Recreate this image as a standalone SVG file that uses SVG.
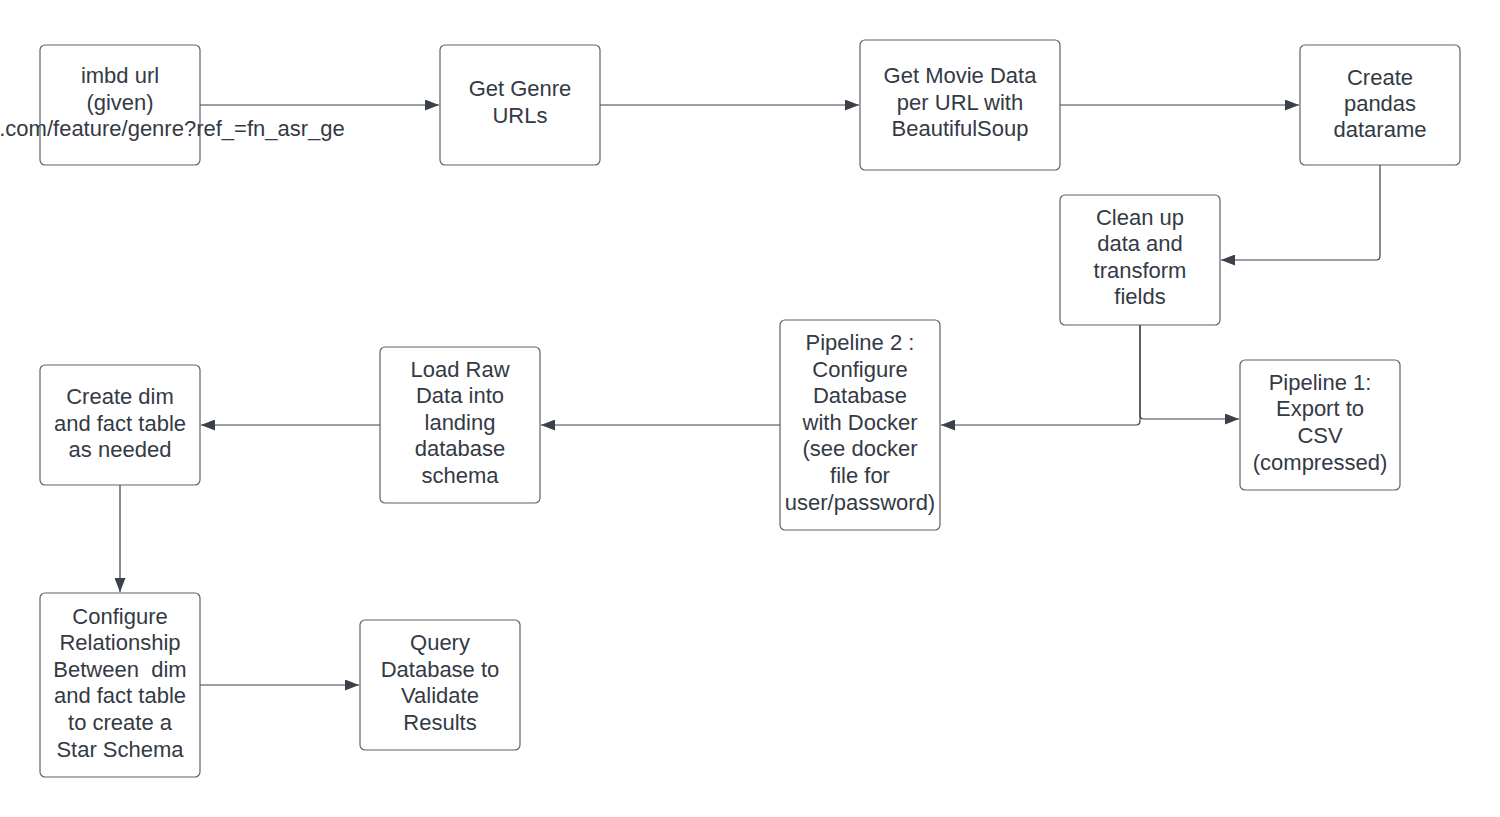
<svg xmlns="http://www.w3.org/2000/svg" width="1500" height="817" viewBox="0 0 1500 817">
<defs>
<style>
.box{fill:#ffffff;stroke:#5e6168;stroke-width:1.2}
.t{font-family:"Liberation Sans",Arial,sans-serif;font-size:22px;fill:#333a45;text-anchor:middle}
.c{fill:none;stroke:#3a414a;stroke-width:1.2}
</style>
<marker id="ah" viewBox="0 0 14 11" refX="14" refY="5.5" markerWidth="14" markerHeight="11" markerUnits="userSpaceOnUse" orient="auto">
<path d="M0,0 L14,5.5 L0,11 Z" fill="#3a414a"/>
</marker>
</defs>
<rect width="1500" height="817" fill="#ffffff"/>
<g id="connectors">
<path class="c" d="M200,105 H439" marker-end="url(#ah)"/>
<path class="c" d="M600,105 H859" marker-end="url(#ah)"/>
<path class="c" d="M1060,105 H1299" marker-end="url(#ah)"/>
<path class="c" d="M1380,165 V256 Q1380,260 1376,260 H1221" marker-end="url(#ah)"/>
<path class="c" d="M1140,325 V421 Q1140,425 1136,425 H941" marker-end="url(#ah)"/>
<path class="c" d="M1140,325 V415 Q1140,419 1144,419 H1239" marker-end="url(#ah)"/>
<path class="c" d="M780,425 H541" marker-end="url(#ah)"/>
<path class="c" d="M380,425 H201" marker-end="url(#ah)"/>
<path class="c" d="M120,485 V592" marker-end="url(#ah)"/>
<path class="c" d="M200,685 H359" marker-end="url(#ah)"/>
</g>
<g id="n1">
<rect class="box" x="40" y="45" width="160" height="120" rx="5"/>
<text class="t"><tspan x="120" y="83">imbd url</tspan><tspan x="120" y="110">(given)</tspan><tspan x="172" y="136">.com/feature/genre?ref_=fn_asr_ge</tspan></text>
</g>
<g id="n2">
<rect class="box" x="440" y="45" width="160" height="120" rx="5"/>
<text class="t"><tspan x="520" y="96">Get Genre</tspan><tspan x="520" y="123">URLs</tspan></text>
</g>
<g id="n3">
<rect class="box" x="860" y="40" width="200" height="130" rx="5"/>
<text class="t"><tspan x="960" y="83">Get Movie Data</tspan><tspan x="960" y="110">per URL with</tspan><tspan x="960" y="136">BeautifulSoup</tspan></text>
</g>
<g id="n4">
<rect class="box" x="1300" y="45" width="160" height="120" rx="5"/>
<text class="t"><tspan x="1380" y="85">Create</tspan><tspan x="1380" y="111">pandas</tspan><tspan x="1380" y="137">datarame</tspan></text>
</g>
<g id="n5">
<rect class="box" x="1060" y="195" width="160" height="130" rx="5"/>
<text class="t"><tspan x="1140" y="225">Clean up</tspan><tspan x="1140" y="251">data and</tspan><tspan x="1140" y="278">transform</tspan><tspan x="1140" y="304">fields</tspan></text>
</g>
<g id="n6">
<rect class="box" x="1240" y="360" width="160" height="130" rx="5"/>
<text class="t"><tspan x="1320" y="390">Pipeline 1:</tspan><tspan x="1320" y="416">Export to</tspan><tspan x="1320" y="443">CSV</tspan><tspan x="1320" y="470">(compressed)</tspan></text>
</g>
<g id="n7">
<rect class="box" x="780" y="320" width="160" height="210" rx="5"/>
<text class="t"><tspan x="860" y="350">Pipeline 2 :</tspan><tspan x="860" y="377">Configure</tspan><tspan x="860" y="403">Database</tspan><tspan x="860" y="430">with Docker</tspan><tspan x="860" y="456">(see docker</tspan><tspan x="860" y="483">file for</tspan><tspan x="860" y="510">user/password)</tspan></text>
</g>
<g id="n8">
<rect class="box" x="380" y="347" width="160" height="156" rx="5"/>
<text class="t"><tspan x="460" y="377">Load Raw</tspan><tspan x="460" y="403">Data into</tspan><tspan x="460" y="430">landing</tspan><tspan x="460" y="456">database</tspan><tspan x="460" y="483">schema</tspan></text>
</g>
<g id="n9">
<rect class="box" x="40" y="365" width="160" height="120" rx="5"/>
<text class="t"><tspan x="120" y="404">Create dim</tspan><tspan x="120" y="431">and fact table</tspan><tspan x="120" y="457">as needed</tspan></text>
</g>
<g id="n10">
<rect class="box" x="40" y="593" width="160" height="184" rx="5"/>
<text class="t"><tspan x="120" y="624">Configure</tspan><tspan x="120" y="650">Relationship</tspan><tspan x="120" y="677" style="white-space:pre">Between  dim</tspan><tspan x="120" y="703">and fact table</tspan><tspan x="120" y="730">to create a</tspan><tspan x="120" y="757">Star Schema</tspan></text>
</g>
<g id="n11">
<rect class="box" x="360" y="620" width="160" height="130" rx="5"/>
<text class="t"><tspan x="440" y="650">Query</tspan><tspan x="440" y="677">Database to</tspan><tspan x="440" y="703">Validate</tspan><tspan x="440" y="730">Results</tspan></text>
</g>
</svg>
